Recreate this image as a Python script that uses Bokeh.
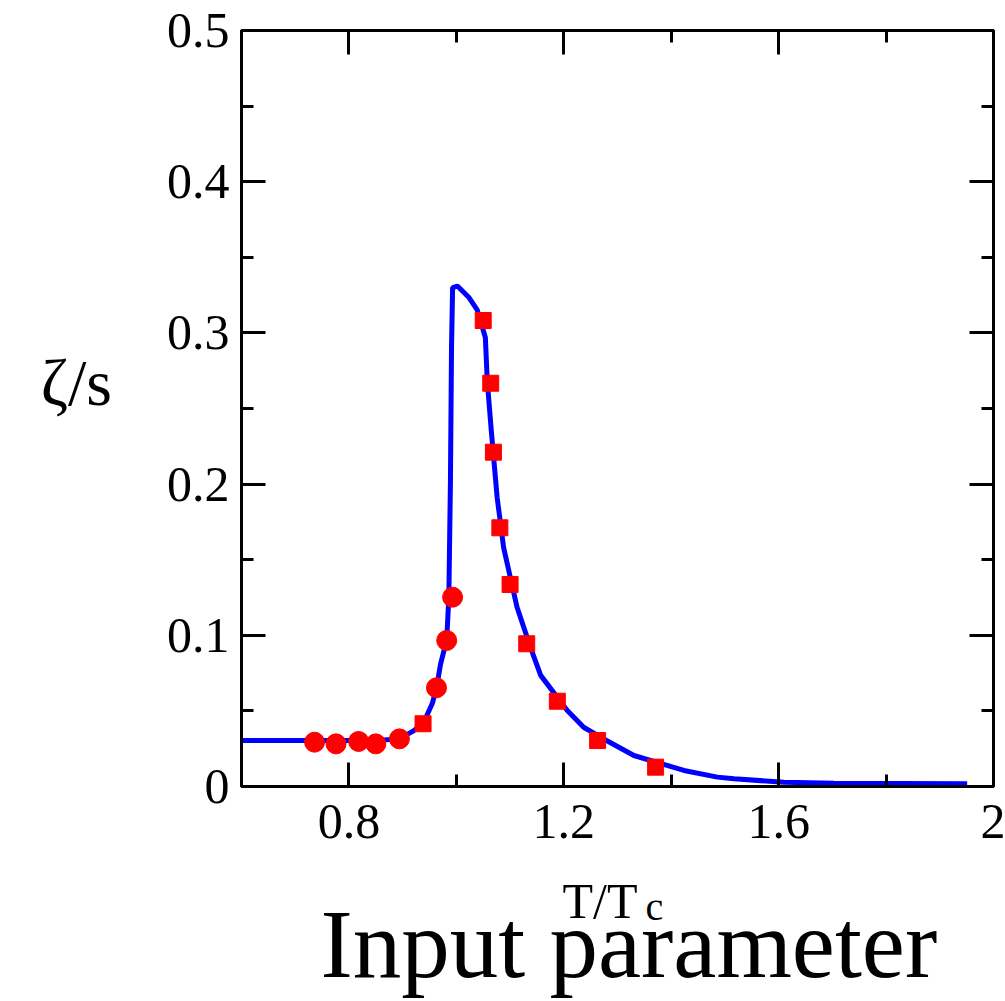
from bokeh.plotting import figure
from bokeh.models import FixedTicker, LinearAxis, Label, Range1d
from bokeh.layouts import column
from bokeh.embed import file_html
from bokeh.resources import INLINE

# ---- data ----
curve_x = [0.600, 0.700, 0.800, 0.850, 0.894, 0.921, 0.938, 0.955, 0.963, 0.9706, 0.982,
           0.986, 0.989, 0.991, 0.993, 1.002, 1.023, 1.039, 1.054, 1.0575, 1.065, 1.076,
           1.088, 1.113, 1.138, 1.157, 1.2065, 1.237, 1.2685, 1.3305, 1.4237, 1.486, 1.517,
           1.610, 1.703, 1.951]
curve_y = [0.0304, 0.0304, 0.0304, 0.0304, 0.0315, 0.0370, 0.0415, 0.0547, 0.0650, 0.0810, 0.0970,
           0.1250, 0.2024, 0.2905, 0.3300, 0.3310, 0.3236, 0.3150, 0.2970, 0.2685, 0.2354, 0.1910,
           0.1580, 0.1186, 0.0920, 0.0735, 0.0503, 0.0392, 0.0326, 0.0205, 0.0106, 0.0062, 0.0051,
           0.0028, 0.0022, 0.0018]

circle_x = [0.736, 0.776, 0.818, 0.850, 0.894, 0.963, 0.982, 0.993]
circle_y = [0.0293, 0.0282, 0.0298, 0.0282, 0.0315, 0.0653, 0.0966, 0.1252]

square_x = [0.938, 1.050, 1.064, 1.069, 1.081, 1.100, 1.131, 1.188, 1.263, 1.371]
square_y = [0.0415, 0.3082, 0.2667, 0.2211, 0.1711, 0.1336, 0.0944, 0.0564, 0.0304, 0.0128]

x_ticks = [0.8, 1.2, 1.6, 2.0]
x_minor = [0.6, 1.0, 1.4, 1.8]
x_labels = {0.8: "0.8", 1.2: "1.2", 1.6: "1.6", 2.0: "2"}
y_ticks = [0.0, 0.1, 0.2, 0.3, 0.4, 0.5]
y_minor = [0.05, 0.15, 0.25, 0.35, 0.45]
y_labels = {0.0: "0", 0.1: "0.1", 0.2: "0.2", 0.3: "0.3", 0.4: "0.4", 0.5: "0.5"}

y_title = "ζ/s"
x_title_main = "T/T"
x_title_sub = "c"
caption = "Input parameter"

FONT = "Liberation Serif"
W = 1005
MAIN_H = 866
FL, FR, FT, FB = 241, 993, 30, 786   # frame edges in page pixels

p = figure(width=W, height=MAIN_H, x_range=Range1d(0.6, 2.0), y_range=Range1d(0.0, 0.5),
           output_backend="svg", toolbar_location=None, title=None,
           x_axis_location=None, y_axis_location=None,
           min_border_left=FL, min_border_right=W - FR, min_border_top=FT,
           min_border_bottom=MAIN_H - FB)
p.grid.visible = False
p.background_fill_color = "white"
p.border_fill_color = "white"
p.outline_line_color = "black"
p.outline_line_width = 3


def make_axis(ticks, minor, labels, show_labels, standoff):
    ax = LinearAxis(ticker=FixedTicker(ticks=ticks, minor_ticks=minor))
    ax.axis_line_color = "black"
    ax.axis_line_width = 3
    ax.major_tick_line_color = "black"
    ax.major_tick_line_width = 3
    ax.minor_tick_line_color = "black"
    ax.minor_tick_line_width = 3
    ax.major_tick_in = 24
    ax.major_tick_out = 0
    ax.minor_tick_in = 12
    ax.minor_tick_out = 0
    if show_labels:
        ax.major_label_overrides = labels
        ax.major_label_text_font = FONT
        ax.major_label_text_font_size = "50px"
        ax.major_label_text_color = "black"
        ax.major_label_standoff = standoff
    else:
        ax.major_label_text_font_size = "0px"
        ax.major_label_text_color = None
        ax.major_label_standoff = 0
    return ax


p.add_layout(make_axis(x_ticks, x_minor, x_labels, True, 18), "below")
yax = make_axis(y_ticks, y_minor, y_labels, True, 12)
yax.axis_label = y_title + "\n"
yax.axis_label_orientation = "horizontal"
yax.axis_label_text_font = FONT
yax.axis_label_text_font_size = "66px"
yax.axis_label_text_line_height = 0.7
yax.axis_label_text_font_style = "normal"
yax.axis_label_text_color = "black"
yax.axis_label_standoff = 52
p.add_layout(yax, "left")
p.add_layout(make_axis(x_ticks, x_minor, x_labels, False, 0), "above")
p.add_layout(make_axis(y_ticks, y_minor, y_labels, False, 0), "right")

p.line(curve_x, curve_y, line_color="#0000ff", line_width=5)
p.scatter(circle_x, circle_y, marker="circle", size=20, fill_color="#ff0000", line_color="#ff0000")
p.scatter(square_x, square_y, marker="square", size=16, fill_color="#ff0000", line_color="#ff0000")

# bottom strip: x-axis title and caption, positioned in page pixels
pb = figure(width=W, height=1001 - MAIN_H, x_range=Range1d(FL, FR), y_range=Range1d(1001, MAIN_H),
            output_backend="svg", toolbar_location=None, title=None,
            x_axis_location=None, y_axis_location=None,
            min_border_left=FL, min_border_right=W - FR, min_border_top=0, min_border_bottom=0)
pb.grid.visible = False
pb.outline_line_color = None
pb.background_fill_color = "white"
pb.border_fill_color = "white"

pb.add_layout(Label(x=562, y=900, text=x_title_main, text_font=FONT, text_font_size="50px",
                    text_color="black", text_align="left", text_baseline="middle"))
pb.add_layout(Label(x=645, y=906, text=x_title_sub, text_font=FONT, text_font_size="40px",
                    text_color="black", text_align="left", text_baseline="middle"))
pb.add_layout(Label(x=320, y=944, text=caption, text_font=FONT, text_font_size="97px",
                    text_color="black", text_align="left", text_baseline="middle"))

layout = column(p, pb, spacing=0)

open("out.html", "w").write(file_html(layout, INLINE))
